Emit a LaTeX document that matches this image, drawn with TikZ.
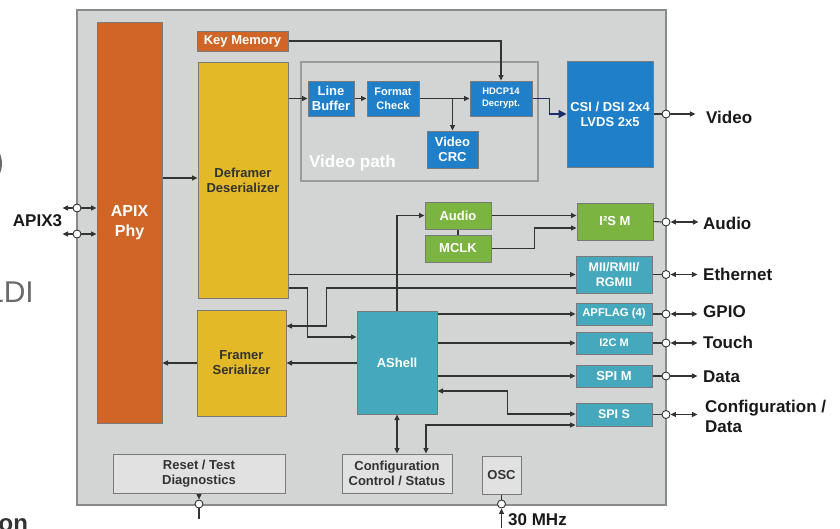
\documentclass[tikz,border=0pt]{standalone}
\usepackage{fontspec}
\setmainfont{Liberation Sans}
\usetikzlibrary{arrows.meta}
\definecolor{bgc}{HTML}{D3D4D4}
\definecolor{mainb}{HTML}{8A8A8A}
\definecolor{bordc}{HTML}{7A7A7A}
\definecolor{orangec}{HTML}{CF6628}
\definecolor{yellowc}{HTML}{E3B927}
\definecolor{bluec}{HTML}{1F7FC8}
\definecolor{tealc}{HTML}{45A8BC}
\definecolor{greenc}{HTML}{7BB440}
\definecolor{lgrayc}{HTML}{E1E1E1}
\definecolor{linec}{HTML}{333333}
\definecolor{navyc}{HTML}{1B2F6B}
\definecolor{textd}{HTML}{333333}
\definecolor{pathc}{HTML}{9A9A9A}
\definecolor{fragc}{HTML}{6A6A6A}
\begin{document}
\begin{tikzpicture}[x=1pt,y=-1pt,
  fs/.style 2 args={font=\bfseries\fontsize{#1}{#2}\selectfont},
  blk/.style 2 args={draw=bordc, line width=1pt, inner sep=0pt, align=center,
    minimum width=#1pt, minimum height=#2pt, fs={13}{15}},
  orangeb/.style={fill=orangec, text=white},
  yellowb/.style={fill=yellowc, text=textd},
  blueb/.style={fill=bluec, text=white},
  tealb/.style={fill=tealc, text=white},
  greenb/.style={fill=greenc, text=white},
  grayb/.style={fill=lgrayc, text=textd},
  ln/.style={draw=linec, line width=1.1pt},
  arr/.style={ln, -{Triangle[length=5.5pt,width=5pt]}},
  darr/.style={ln, {Triangle[length=5.5pt,width=5pt]}-{Triangle[length=5.5pt,width=5pt]}},
  navyarr/.style={draw=navyc, line width=1.2pt, -{Triangle[length=8pt,width=8pt]}},
  port/.style={circle, draw=linec, fill=white, line width=0.9pt, inner sep=0pt, minimum size=8pt},
  outl/.style={anchor=west, inner sep=0pt, text=black!90, align=left, font=\bfseries\fontsize{17}{20}\selectfont}
]
\useasboundingbox (0,0) rectangle (840,528);
% cut-off fragments at the left edge
\begin{scope}
  \clip (0,0) rectangle (840,528);
  \draw[fragc, line width=2pt] (-15.5,163.5) ellipse (16.5 and 20);
  \node[anchor=base west, inner sep=0pt, text=fragc, font=\fontsize{30}{30}\selectfont] (fragldi) at (-13.1,302) {LDI};
  \node[anchor=base west, inner sep=0pt, text=black!80, font=\bfseries\fontsize{24}{24}\selectfont] (fragon) at (-1.5,531) {on};
\end{scope}
% chip
\node[draw=mainb, fill=bgc, line width=1.2pt, minimum width=589pt, minimum height=495pt, inner sep=0pt] (chip) at (371.5,257.5) {};
% video path frame
\node[draw=pathc, line width=2.8pt, minimum width=237pt, minimum height=119pt, inner sep=0pt] (vpath) at (419.5,121.5) {};
\node[anchor=west, inner sep=0pt, text=white, fs={17}{20}] (vpathlbl) at (309,163) {Video path};
% blocks
\node[blk={65}{401}, orangeb, fs={16}{20}] (apix) at (129.5,222.5) {APIX\\Phy};
\node[blk={91}{20}, orangeb] (keymem) at (242.5,41) {Key Memory};
\node[blk={90}{236}, yellowb] (deframer) at (243,180) {Deframer\\Deserializer};
\node[blk={89}{106}, yellowb] (framer) at (241.5,363) {Framer\\Serializer};
\node[blk={172}{39}, grayb] (reset) at (199,473.5) {Reset / Test\\Diagnostics};
\node[blk={46}{35}, blueb] (linebuf) at (331,98.5) {Line\\Buffer};
\node[blk={52}{35}, blueb, fs={11}{14}] (format) at (393,98.5) {Format\\Check};
\node[blk={62}{35}, blueb, fs={9.5}{12}] (hdcp) at (501,98.5) {HDCP14\\Decrypt.};
\node[blk={51}{37}, blueb] (vcrc) at (452.5,149.5) {Video\\CRC};
\node[blk={86}{106}, blueb] (csi) at (610,114) {CSI / DSI 2x4\\LVDS 2x5};
\node[blk={76}{37}, greenb] (i2s) at (615,221.5) {I²S M};
\node[blk={66}{27}, greenb] (audio) at (458,215.5) {Audio};
\node[blk={66}{27}, greenb] (mclk) at (458,248.5) {MCLK};
\node[blk={80}{103}, tealb] (ashell) at (397,362.5) {AShell};
\node[blk={76}{37}, tealb, fs={12.5}{15}] (mii) at (614,274.5) {MII/RMII/\\RGMII};
\node[blk={76}{22}, tealb, fs={11.3}{13}] (apflag) at (614,314) {APFLAG (4)};
\node[blk={76}{22}, tealb, fs={11}{13}] (i2cm) at (614,343) {I2C M};
\node[blk={76}{22}, tealb] (spim) at (614,376) {SPI M};
\node[blk={76}{23}, tealb, fs={12.5}{15}] (spis) at (614,414.5) {SPI S};
\node[blk={110}{39}, grayb] (config) at (397,473.5) {Configuration\\Control / Status};
\node[blk={39}{38}, grayb] (osc) at (501.5,475) {OSC};
% ports
\node[port] (papix1) at (77,208) {};
\node[port] (papix2) at (77,234) {};
\node[port] (pvideo) at (666,114) {};
\node[port] (paudio) at (666,222) {};
\node[port] (pmii) at (666,274.5) {};
\node[port] (pgpio) at (666,314) {};
\node[port] (ptouch) at (666,343) {};
\node[port] (pdata) at (666,376) {};
\node[port] (pcfg) at (666,414.5) {};
\node[port] (preset) at (199,504) {};
\node[port] (posc) at (501.5,504) {};
\coordinate (oscin) at (501.5,528);
\coordinate (resetout) at (199,519);
% APIX3
\draw[arr] (papix1.east) -- (apix.west |- papix1);
\draw[arr] (papix1.west) -- ++(-10,0);
\draw[arr] (papix2.east) -- (apix.west |- papix2);
\draw[arr] (papix2.west) -- ++(-10,0);
\node[outl, anchor=center] (lapix) at (37.5,221) {APIX3};
% video path
\draw[arr] (apix.east |- 0,178) -- (deframer.west |- 0,178);
\draw[arr] (deframer.east |- linebuf.west) -- (linebuf.west);
\draw[arr] (linebuf.east) -- (format.west);
\draw[arr] (format.east) -- (hdcp.west);
\draw[arr] (vcrc.north |- format.east) -- (vcrc.north);
\draw[arr] (keymem.east) -| (hdcp.north);
\draw[navyarr] (hdcp.east) -- ++(17,0) |- (csi.west);
% audio
\draw[arr] (audio.east) -- (i2s.west |- audio.east);
\draw[ln] (audio.south) -- (mclk.north);
\draw[arr] (mclk.east) -- ++(43,0) |- (i2s.west |- 0,228);
\draw[arr] (ashell.north) |- (audio.west);
% ethernet / framer / ashell
\draw[arr] (deframer.east |- mii.west) -- (mii.west);
\draw[arr] (mii.west |- 0,288) -- ++(-249,0) |- (framer.east |- 0,326);
\draw[arr] (deframer.east |- 0,288) -- ++(19,0) |- (ashell.west |- 0,337);
\draw[arr] (ashell.west |- framer.east) -- (framer.east);
\draw[arr] (framer.west) -- (apix.east |- framer.west);
\draw[arr] (ashell.east |- apflag.west) -- (apflag.west);
\draw[arr] (ashell.east |- i2cm.west) -- (i2cm.west);
\draw[arr] (ashell.east |- spim.west) -- (spim.west);
\draw[darr] (ashell.east |- 0,391) -- ++(70,0) |- (spis.west |- 0,414);
\draw[darr] (config.north -| 426,0) |- (spis.west |- 0,425);
\draw[darr] (ashell.south) -- (config.north);
% outputs
\draw[ln] (csi.east) -- (pvideo.west);
\draw[arr] (pvideo.east) -- ++(25,0);
\draw[ln] (i2s.east) -- (paudio.west);
\draw[darr] (paudio.east) -- ++(28,0);
\draw[ln] (mii.east) -- (pmii.west);
\draw[darr] (pmii.east) -- ++(27,0);
\draw[ln] (apflag.east) -- (pgpio.west);
\draw[darr] (pgpio.east) -- ++(27,0);
\draw[ln] (i2cm.east) -- (ptouch.west);
\draw[darr] (ptouch.east) -- ++(27,0);
\draw[ln] (spim.east) -- (pdata.west);
\draw[arr] (pdata.east) -- ++(27,0);
\draw[ln] (spis.east) -- (pcfg.west);
\draw[darr] (pcfg.east) -- ++(27,0);
\node[outl] (lvideo) at (706,117) {Video};
\node[outl] (laudio) at (703,223) {Audio};
\node[outl] (lether) at (703,274) {Ethernet};
\node[outl] (lgpio) at (703,312) {GPIO};
\node[outl] (ltouch) at (703,342) {Touch};
\node[outl] (ldata) at (703,377) {Data};
\node[outl] (lcfg) at (705,416) {Configuration /\\Data};
% bottom
\draw[arr] (reset.south) -- (preset.north);
\draw[ln] (preset.south) -- (resetout);
\draw[ln] (osc.south) -- (posc.north);
\draw[arr] (oscin) -- (posc.south);
\node[outl] (l30) at (508,520) {30 MHz};
\end{tikzpicture}
\end{document}
